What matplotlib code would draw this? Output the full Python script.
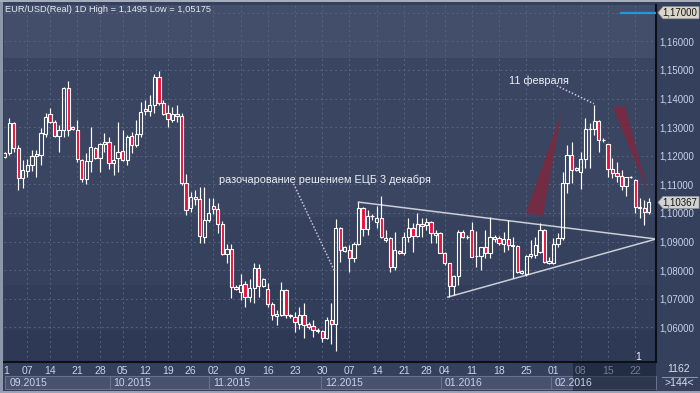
import numpy as np
import matplotlib.pyplot as plt
from matplotlib.patches import Rectangle, Polygon
from matplotlib.ticker import FuncFormatter, FixedLocator

plt.rcParams['font.family'] = ['Liberation Sans', 'DejaVu Sans']

# EUR/USD daily candles
opens = [1.1196, 1.1210, 1.1315, 1.1228, 1.1123, 1.1147, 1.1168, 1.1200, 1.1203, 1.1277,
         1.1347, 1.1319, 1.1270, 1.1291, 1.1438, 1.1301, 1.1291, 1.1186, 1.1119, 1.1182,
         1.1228, 1.1193, 1.1242, 1.1249, 1.1175, 1.1193, 1.1217, 1.1186, 1.1270, 1.1238,
         1.1277, 1.1364, 1.1357, 1.1378, 1.1476, 1.1385, 1.1350, 1.1326, 1.1347, 1.1340,
         1.1105, 1.1018, 1.1056, 1.1049, 1.0916, 1.0976, 1.1025, 1.1014, 1.0962, 1.0857,
         1.0874, 1.0741, 1.0724, 1.0752, 1.0706, 1.0738, 1.0808, 1.0745, 1.0734, 1.0682,
         1.0640, 1.0643, 1.0731, 1.0640, 1.0636, 1.0612, 1.0643, 1.0612, 1.0605, 1.0587,
         1.0587, 1.0563, 1.0626, 1.0612, 1.0948, 1.0867, 1.0871, 1.0843, 1.0892, 1.1018,
         1.0944, 1.0990, 1.0969, 1.0983, 1.0906, 1.0913, 1.0811, 1.0867, 1.0860, 1.0916,
         1.0948, 1.0920, 1.0962, 1.0958, 1.0969, 1.0923, 1.0930, 1.0860, 1.0825, 1.0745,
         1.0780, 1.0934, 1.0916, 1.0941, 1.0850, 1.0850, 1.0881, 1.0860, 1.0909, 1.0913,
         1.0892, 1.0909, 1.0885, 1.0885, 1.0790, 1.0787, 1.0850, 1.0853, 1.0864, 1.0941,
         1.0825, 1.0825, 1.0892, 1.0913, 1.1105, 1.1203, 1.1151, 1.1144, 1.1189, 1.1294,
         1.1294, 1.1322, 1.1256, 1.1242, 1.1154, 1.1140, 1.1130, 1.1095, 1.1126, 1.1116,
         1.1018, 1.1018, 1.1004]
highs = [1.1214, 1.1333, 1.1319, 1.1238, 1.1186, 1.1189, 1.1221, 1.1221, 1.1298, 1.1350,
         1.1368, 1.1326, 1.1308, 1.1441, 1.1462, 1.1305, 1.1326, 1.1189, 1.1210, 1.1301,
         1.1231, 1.1245, 1.1280, 1.1266, 1.1238, 1.1319, 1.1291, 1.1273, 1.1284, 1.1326,
         1.1389, 1.1396, 1.1413, 1.1487, 1.1495, 1.1396, 1.1378, 1.1371, 1.1378, 1.1350,
         1.1137, 1.1074, 1.1081, 1.1091, 1.1091, 1.1053, 1.1053, 1.1035, 1.0972, 1.0892,
         1.0892, 1.0748, 1.0787, 1.0762, 1.0769, 1.0825, 1.0822, 1.0773, 1.0755, 1.0689,
         1.0661, 1.0759, 1.0734, 1.0647, 1.0654, 1.0671, 1.0685, 1.0619, 1.0626, 1.0598,
         1.0591, 1.0636, 1.0685, 1.0979, 1.0951, 1.0885, 1.0888, 1.0899, 1.1039, 1.1021,
         1.1011, 1.0997, 1.1025, 1.1060, 1.0941, 1.0916, 1.0934, 1.0871, 1.0934, 1.0983,
         1.0965, 1.1000, 1.0983, 1.0983, 1.0972, 1.0941, 1.0934, 1.0864, 1.0825, 1.0783,
         1.0941, 1.0941, 1.0923, 1.0969, 1.0937, 1.0881, 1.0941, 1.0986, 1.0923, 1.0920,
         1.0934, 1.0976, 1.0916, 1.0888, 1.0801, 1.0853, 1.0906, 1.0916, 1.0965, 1.0944,
         1.0846, 1.0913, 1.0930, 1.1144, 1.1238, 1.1249, 1.1161, 1.1214, 1.1333, 1.1315,
         1.1378, 1.1326, 1.1263, 1.1242, 1.1193, 1.1179, 1.1151, 1.1126, 1.1130, 1.1119,
         1.1053, 1.1046, 1.1053]
lows = [1.1193, 1.1203, 1.1214, 1.1081, 1.1088, 1.1126, 1.1147, 1.1126, 1.1168, 1.1266,
        1.1315, 1.1266, 1.1214, 1.1266, 1.1270, 1.1291, 1.1179, 1.1109, 1.1102, 1.1144,
        1.1189, 1.1144, 1.1214, 1.1154, 1.1133, 1.1144, 1.1182, 1.1168, 1.1210, 1.1231,
        1.1266, 1.1343, 1.1340, 1.1350, 1.1378, 1.1343, 1.1301, 1.1319, 1.1319, 1.1098,
        1.0993, 1.1004, 1.1028, 1.0895, 1.0895, 1.0969, 1.0997, 1.0930, 1.0853, 1.0825,
        1.0703, 1.0731, 1.0696, 1.0671, 1.0689, 1.0685, 1.0706, 1.0741, 1.0671, 1.0626,
        1.0608, 1.0640, 1.0633, 1.0633, 1.0584, 1.0594, 1.0563, 1.0594, 1.0566, 1.0580,
        1.0549, 1.0559, 1.0542, 1.05175, 1.0829, 1.0864, 1.0794, 1.0829, 1.0888, 1.0920,
        1.0923, 1.0976, 1.0948, 1.0913, 1.0899, 1.0794, 1.0801, 1.0857, 1.0853, 1.0899,
        1.0864, 1.0916, 1.0916, 1.0941, 1.0895, 1.0895, 1.0860, 1.0818, 1.0706, 1.0713,
        1.0748, 1.0913, 1.0909, 1.0846, 1.0811, 1.0801, 1.0843, 1.0843, 1.0899, 1.0888,
        1.0864, 1.0871, 1.0773, 1.0790, 1.0787, 1.0780, 1.0843, 1.0843, 1.0860, 1.0825,
        1.0822, 1.0822, 1.0881, 1.0906, 1.1070, 1.1105, 1.1147, 1.1084, 1.1158, 1.1158,
        1.1273, 1.1214, 1.1249, 1.1126, 1.1123, 1.1109, 1.1081, 1.1060, 1.1123, 1.1000,
        1.0983, 1.0958, 1.0997]
closes = [1.1210, 1.1315, 1.1228, 1.1123, 1.1151, 1.1168, 1.1200, 1.1207, 1.1280, 1.1336,
          1.1319, 1.1270, 1.1291, 1.1438, 1.1291, 1.1294, 1.1189, 1.1119, 1.1182, 1.1231,
          1.1193, 1.1242, 1.1249, 1.1175, 1.1186, 1.1214, 1.1186, 1.1266, 1.1238, 1.1277,
          1.1354, 1.1357, 1.1378, 1.1476, 1.1385, 1.1347, 1.1329, 1.1347, 1.1340, 1.1105,
          1.1011, 1.1056, 1.1049, 1.0920, 1.0976, 1.1000, 1.1014, 1.0962, 1.0857, 1.0874,
          1.0741, 1.0734, 1.0748, 1.0706, 1.0738, 1.0808, 1.0745, 1.0769, 1.0682, 1.0643,
          1.0647, 1.0731, 1.0643, 1.0643, 1.0619, 1.0643, 1.0608, 1.0601, 1.0591, 1.0591,
          1.0563, 1.0626, 1.0612, 1.0948, 1.0871, 1.0881, 1.0843, 1.0892, 1.1018, 1.0944,
          1.0990, 1.0990, 1.0983, 1.0916, 1.0913, 1.0811, 1.0871, 1.0860, 1.0916, 1.0948,
          1.0920, 1.0962, 1.0955, 1.0969, 1.0930, 1.0930, 1.0860, 1.0825, 1.0745, 1.0780,
          1.0934, 1.0916, 1.0916, 1.0846, 1.0850, 1.0881, 1.0860, 1.0916, 1.0916, 1.0895,
          1.0909, 1.0888, 1.0888, 1.0794, 1.0797, 1.0850, 1.0857, 1.0888, 1.0941, 1.0829,
          1.0832, 1.0892, 1.0913, 1.1105, 1.1203, 1.1151, 1.1158, 1.1189, 1.1294, 1.1294,
          1.1322, 1.1256, 1.1256, 1.1154, 1.1140, 1.1130, 1.1095, 1.1126, 1.1126, 1.1021,
          1.1021, 1.1004, 1.10367]

# x axis: day labels (bar position) and month blocks
day_ticks = [0.4, 5, 10, 16, 21, 26, 31, 36, 41, 46, 52, 58, 64, 70, 76, 82, 88, 93, 97,
             103, 109, 115, 121, 127, 133, 139]
day_labels = ["1", "07", "14", "21", "28", "05", "12", "19", "26", "02", "09", "16", "23",
              "30", "07", "14", "21", "28", "04", "11", "18", "25", "01", "08", "15", "22"]
months = ["09.2015", "10.2015", "11.2015", "12.2015", "01.2016", "02.2016"]
month_start = [1.0, 24.0, 46.0, 70.6, 97.0, 121.3]

price_ticks = [1.06, 1.07, 1.08, 1.09, 1.10, 1.11, 1.12, 1.13, 1.14, 1.15, 1.16]
top_level = 1.17
last_price = 1.10367

# triangle, wedges, notes (bar index, price)
tri_upper = ([78.0, 143.6], [1.1038, 1.0909])
tri_lower = ([97.7, 143.6], [1.0706, 1.0909])
wedge_left = [(114.9, 1.1000), (118.6, 1.0990), (122.8, 1.1354)]
wedge_right = [(134.1, 1.1368), (136.7, 1.1375), (141.8, 1.1074)]
note_ecb = "разочарование решением ЕЦБ 3 декабря"
note_feb = "11 февраля"

W, H = 700, 393
fig = plt.figure(figsize=(7, 3.93), dpi=100)
fig.patch.set_facecolor('#35415c')

def fx(px):
    return px / W

def fy(py):
    return 1 - py / H

ax = fig.add_axes([fx(4), 31 / H, 652 / W, 357 / H])
ax.set_xlim(-0.15, 143.6)
ax.set_ylim(1.0479, 1.1727)
ax.set_facecolor('#3a4562')

# background bands
bands = [(0.0, 0.09, '#2e3955'), (0.09, 0.216, '#323d59'), (0.216, 0.406, '#36415d'),
         (0.406, 0.852, '#3a4562'), (0.852, 1.0, '#424e6a')]
for b0, b1, col in bands:
    ax.add_patch(Rectangle((0, b0), 1, b1 - b0, transform=ax.transAxes, fc=col, ec='none', zorder=0))

# grid
for p in price_ticks + [top_level]:
    ax.axhline(p, color='#56627e', lw=0.7, ls=(0, (2, 3)), zorder=1)
for t in day_ticks[1:]:
    ax.axvline(t, color='#56627e', lw=0.7, ls=(0, (2, 3)), zorder=1)

# wedges
ax.add_patch(Polygon(wedge_left, closed=True, fc='#7a2a40', ec='none', alpha=0.9, zorder=2))
ax.add_patch(Polygon(wedge_right, closed=True, fc='#7a2a40', ec='none', alpha=0.9, zorder=2))

# triangle
ax.plot(*tri_upper, color='#c9ced8', lw=1.1, zorder=2)
ax.plot(*tri_lower, color='#c9ced8', lw=1.1, zorder=2)

# candles
o = np.array(opens); h = np.array(highs); l = np.array(lows); c = np.array(closes)
x = np.arange(len(o))
top = np.maximum(o, c); bot = np.minimum(o, c)
up = c >= o
flat = (top - bot) < 1e-5
ax.vlines(x, top, h, color='white', lw=0.85, zorder=3)
ax.vlines(x, l, bot, color='white', lw=0.85, zorder=3)
ax.hlines(o[flat], x[flat] - 0.4, x[flat] + 0.4, color='white', lw=0.9, zorder=4)
m = up & ~flat
ax.bar(x[m], (top - bot)[m], bottom=bot[m], width=0.72, fc='none', ec='white', lw=0.8, zorder=4)
m = ~up & ~flat
ax.bar(x[m], (top - bot)[m], bottom=bot[m], width=0.72, fc='#e8103c', ec='white', lw=0.8, zorder=4)

# annotations
ax.plot([63.7, 72.8], [1.1102, 1.0794], color='#c0c6d2', lw=1.1, ls=(0, (1, 1.2)), zorder=5)
ax.text(47.2, 1.1116, note_ecb, color='#eef1f6', fontsize=7.8, va='center', ha='left', zorder=6)
ax.plot([121.7, 129.9], [1.1445, 1.1382], color='#c0c6d2', lw=1.1, ls=(0, (1, 1.2)), zorder=5)
ax.text(111.1, 1.1462, note_feb, color='#eef1f6', fontsize=7.8, va='center', ha='left', zorder=6)
ax.text(139.6, 1.0497, "1", color='#eef1f6', fontsize=7.5, va='center', ha='center', zorder=6)
ax.plot([135.8, 143.6], [top_level, top_level], color='#1e9be0', lw=1.6, zorder=5)

# axes styling
for s in ['left', 'top']:
    ax.spines[s].set_visible(False)
ax.spines['right'].set_color('#0c0f18')
ax.spines['right'].set_linewidth(1.5)
ax.spines['bottom'].set_color('#0c0f18')
ax.spines['bottom'].set_linewidth(1.5)
ax.yaxis.tick_right()
ax.yaxis.set_major_locator(FixedLocator(price_ticks))
ax.yaxis.set_major_formatter(FuncFormatter(lambda v, p: f"{v:.5f}".replace('.', ',')))
ax.tick_params(axis='y', length=0, pad=2.5, labelsize=6.9, labelcolor='#c8d3ea')
ax.set_xticks(day_ticks)
ax.set_xticklabels(day_labels)
ax.tick_params(axis='x', length=0, pad=3, labelsize=7.5, labelcolor='#c8d3ea')

# price tags drawn in figure pixels
def price_tag(price, label, col):
    yc = H - ax.transData.transform((0, price))[1]
    pts = [(658, yc), (663, yc - 6), (699, yc - 6), (699, yc + 6), (663, yc + 6)]
    fig.add_artist(Polygon([(fx(a), fy(b)) for a, b in pts], closed=True,
                           transform=fig.transFigure, fc=col, ec='#9a9a9a', lw=0.5))
    fig.text(fx(662.5), fy(yc), label, fontsize=6.9, color='#111111', va='center', ha='left')

price_tag(top_level, "1,17000", '#dad7ca')
price_tag(last_price, "1,10367", '#d2d2d2')

# month row
xpx = lambda i: 4 + (i + 0.15) * 652 / 143.75
edges = [xpx(s) for s in month_start] + [656]
for k, name in enumerate(months):
    x0 = edges[k] - 4
    x1 = edges[k + 1] - 4 if k + 1 < len(months) else 656
    fig.add_artist(Rectangle((fx(x0), fy(389)), fx(x1 - x0), 13 / H, transform=fig.transFigure,
                             fc='#46526e', ec='#66728c', lw=0.8))
    fig.text(fx(x0 + 4), fy(383), name, fontsize=7.5, color='#c8d3ea', va='center', ha='left')
# dimmed right part of the time axis
fig.add_artist(Rectangle((fx(573), fy(391)), fx(656 - 573), 28 / H, transform=fig.transFigure,
                         fc='#0d1424', ec='none', alpha=0.45))

# corner panel
fig.text(fx(679), fy(369), "1162", fontsize=7.5, color='#d4dcee', ha='center', va='center')
fig.text(fx(679), fy(383), ">144<", fontsize=7.5, color='#d4dcee', ha='center', va='center')
fig.add_artist(plt.Line2D([fx(662), fx(697)], [fy(376.5), fy(376.5)], color='#8792a8', lw=0.8))

# frame
fig.add_artist(Rectangle((0, 0), fx(3), 1, transform=fig.transFigure, fc='#8d97aa', ec='none'))
fig.add_artist(Rectangle((0, fy(2)), 1, 2 / H, transform=fig.transFigure, fc='#a5adbd', ec='none'))
fig.add_artist(Rectangle((0, 0), 1, 2 / H, transform=fig.transFigure, fc='#9aa3b5', ec='none'))

fig.text(fx(5), fy(9), "EUR/USD(Real) 1D High = 1,1495 Low = 1,05175", fontsize=6.7,
         color='#e6eaf2', va='center', ha='left')

fig.savefig('out.png', dpi=100, facecolor=fig.get_facecolor())
